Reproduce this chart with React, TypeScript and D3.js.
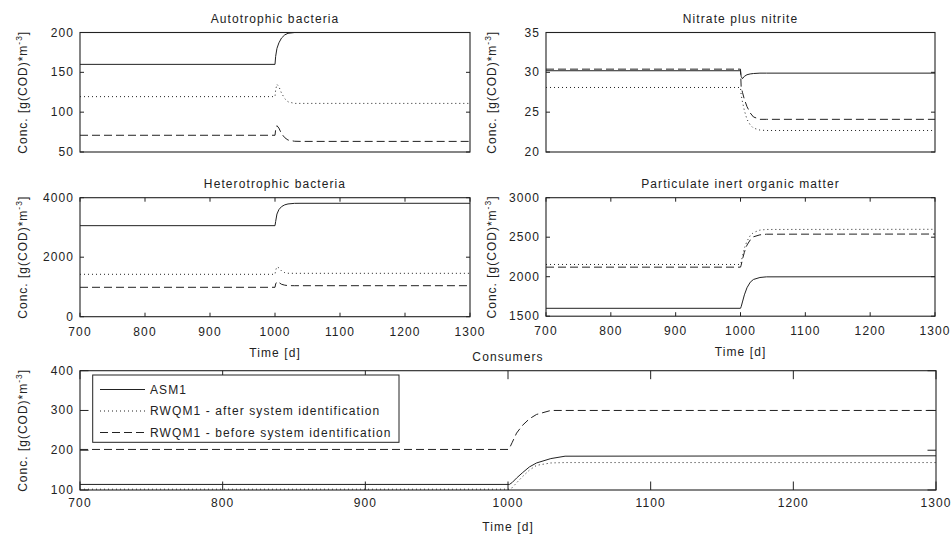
import React from "react";
import * as d3 from "d3";

// ---- data ----
const TIME = [700, 1000, 1001, 1003, 1006, 1010, 1015, 1020, 1030, 1040, 1300];
const X_TICKS = [700, 800, 900, 1000, 1100, 1200, 1300];

const autoASM1 = [160, 160, 170, 180, 187, 193, 197, 199, 200, 200, 200];
const autoAfter = [119.5, 119.5, 128, 135, 132, 124, 117, 113, 111, 111, 111];
const autoBefore = [71, 71, 78, 83, 80, 73, 68, 65, 63.5, 63.3, 63.3];
const autoTicks = [50, 100, 150, 200];

const nitASM1 = [30.2, 30.2, 29.5, 29.2, 29.5, 29.7, 29.8, 29.85, 29.9, 29.9, 29.9];
const nitAfter = [28.1, 28.1, 27.2, 26.3, 25.2, 24.1, 23.4, 23.0, 22.75, 22.7, 22.7];
const nitBefore = [30.4, 30.4, 28.2, 27.5, 26.6, 25.7, 24.9, 24.4, 24.1, 24.1, 24.1];
const nitTicks = [20, 25, 30, 35];

const hetASM1 = [3060, 3060, 3200, 3450, 3600, 3700, 3760, 3790, 3810, 3812, 3812];
const hetAfter = [1425, 1425, 1560, 1680, 1640, 1540, 1480, 1460, 1458, 1458, 1458];
const hetBefore = [988, 988, 1100, 1180, 1150, 1090, 1060, 1045, 1042, 1042, 1042];
const hetTicks = [0, 2000, 4000];

const partASM1 = [1600, 1600, 1620, 1680, 1770, 1860, 1930, 1965, 1990, 1998, 2000];
const partAfter = [2155, 2155, 2180, 2260, 2360, 2450, 2520, 2560, 2590, 2598, 2600];
const partBefore = [2121, 2121, 2145, 2220, 2310, 2400, 2465, 2505, 2530, 2538, 2540];
const partTicks = [1500, 2000, 2500, 3000];

const consASM1 = [114, 114, 114, 119, 130, 143, 158, 168, 179, 185, 186];
const consAfter = [102, 102, 102, 106, 118, 133, 150, 162, 168, 169, 169];
const consBefore = [202, 202, 205, 220, 243, 262, 279, 290, 300, 300, 300];
const consTicks = [100, 200, 300, 400];

const SERIES_NAMES = [
  "ASM1",
  "RWQM1 - after system identification",
  "RWQM1 - before system identification",
];

// ---- styles ----
const INK = "#222";
const DASHES = [null, "1,3", "8,4"];
const FONT = "'Liberation Sans', Arial, Helvetica, sans-serif";
const FS = 12;
const LS = 1.1;

type Panel = {
  id: string;
  title: string;
  x: number; y: number; w: number; h: number;
  domain: [number, number];
  ticks: number[];
  xTicks: boolean;
  xLabels: boolean;
  series: number[][];
  tickLen: number;
  labelOffset: number;
  legend?: boolean;
};

const panels: Panel[] = [
  { id: "a", title: "Autotrophic bacteria", x: 80, y: 32.5, w: 390, h: 119.5, domain: [50, 200], ticks: autoTicks, xTicks: false, xLabels: false, series: [autoASM1, autoAfter, autoBefore], tickLen: 4, labelOffset: 53 },
  { id: "n", title: "Nitrate plus nitrite", x: 546, y: 32.5, w: 389, h: 119.5, domain: [20, 35], ticks: nitTicks, xTicks: false, xLabels: false, series: [nitASM1, nitAfter, nitBefore], tickLen: 4, labelOffset: 50 },
  { id: "h", title: "Heterotrophic bacteria", x: 80, y: 197.7, w: 390, h: 119, domain: [0, 4000], ticks: hetTicks, xTicks: true, xLabels: true, series: [hetASM1, hetAfter, hetBefore], tickLen: 4, labelOffset: 53 },
  { id: "p", title: "Particulate inert organic matter", x: 546, y: 197.7, w: 389, h: 118.5, domain: [1500, 3000], ticks: partTicks, xTicks: true, xLabels: true, series: [partASM1, partAfter, partBefore], tickLen: 4, labelOffset: 50 },
  { id: "c", title: "Consumers", x: 80, y: 370.7, w: 856, h: 119.3, domain: [100, 400], ticks: consTicks, xTicks: true, xLabels: true, series: [consASM1, consAfter, consBefore], tickLen: 8.5, labelOffset: 53, legend: true },
];

function PanelView({ p }: { p: Panel }) {
  const xs = d3.scaleLinear().domain([700, 1300]).range([p.x, p.x + p.w]);
  const ys = d3.scaleLinear().domain(p.domain).range([p.y + p.h, p.y]);
  const line = d3.line<number>().x((_, i) => xs(TIME[i])).y((v) => ys(v));
  const cx = p.x + p.w / 2;
  const isBottom = !!p.legend;
  const tickLblY = p.y + p.h + (isBottom ? 17 : 19);
  const labelX = p.x - p.labelOffset;
  const labelY = p.y + p.h / 2;
  return (
    <g>
      <defs>
        <clipPath id={`clip-${p.id}`}>
          <rect x={p.x} y={p.y} width={p.w} height={p.h} />
        </clipPath>
      </defs>
      {/* title */}
      <text x={cx} y={p.y - 9.5} textAnchor="middle" fontSize={FS} letterSpacing={LS} fill={INK}>{p.title}</text>
      {/* y ticks */}
      {p.ticks.map((t) => (
        <g key={`y${t}`}>
          <line x1={p.x} x2={p.x + p.tickLen} y1={ys(t)} y2={ys(t)} stroke={INK} />
          <line x1={p.x + p.w} x2={p.x + p.w - p.tickLen} y1={ys(t)} y2={ys(t)} stroke={INK} />
          <text x={p.x - 6} y={ys(t) + 4} textAnchor="end" fontSize={FS} letterSpacing={LS} fill={INK}>{t}</text>
        </g>
      ))}
      {/* x ticks */}
      {p.xTicks && X_TICKS.map((t) => (
        <g key={`x${t}`}>
          <line x1={xs(t)} x2={xs(t)} y1={p.y + p.h} y2={p.y + p.h - p.tickLen} stroke={INK} />
          <line x1={xs(t)} x2={xs(t)} y1={p.y} y2={p.y + p.tickLen} stroke={INK} />
          {p.xLabels && (
            <text x={xs(t)} y={tickLblY} textAnchor="middle" fontSize={FS} letterSpacing={LS} fill={INK}>{t}</text>
          )}
        </g>
      ))}
      {p.xLabels && (
        <text x={cx} y={p.y + p.h + (isBottom ? 41 : 40)} textAnchor="middle" fontSize={FS} letterSpacing={LS} fill={INK}>Time [d]</text>
      )}
      {/* y label */}
      <text transform={`translate(${labelX},${labelY}) rotate(-90)`} textAnchor="middle" fontSize={FS} letterSpacing={1} fill={INK}>
        Conc. [g(COD)*m<tspan dy={-5} fontSize={8.5}>-3</tspan><tspan dy={5}>]</tspan>
      </text>
      {/* series */}
      <g clipPath={`url(#clip-${p.id})`}>
        {p.series.map((s, i) => (
          <path key={i} d={line(s) || ""} fill="none" stroke={INK} strokeWidth={1} strokeDasharray={DASHES[i] || undefined} />
        ))}
      </g>
      {/* box */}
      <rect x={p.x} y={p.y} width={p.w} height={p.h} fill="none" stroke={INK} strokeWidth={1.1} />
      {p.legend && (
        <g>
          <rect x={92.7} y={375} width={306.3} height={67.3} fill="white" stroke={INK} strokeWidth={1} />
          {SERIES_NAMES.map((name, i) => {
            const ly = 389.5 + i * 21.5;
            return (
              <g key={name}>
                <line x1={100} x2={145} y1={ly} y2={ly} stroke={INK} strokeDasharray={DASHES[i] || undefined} />
                <text x={150} y={ly + 4} fontSize={FS} letterSpacing={LS} fill={INK}>{name}</text>
              </g>
            );
          })}
        </g>
      )}
    </g>
  );
}

export default function App() {
  return (
    <svg width={951} height={534} style={{ position: "absolute", left: 0, top: 0, background: "white" }} fontFamily={FONT}>
      <rect x={0} y={0} width={951} height={534} fill="white" />
      {panels.map((p) => (
        <PanelView key={p.id} p={p} />
      ))}
    </svg>
  );
}
